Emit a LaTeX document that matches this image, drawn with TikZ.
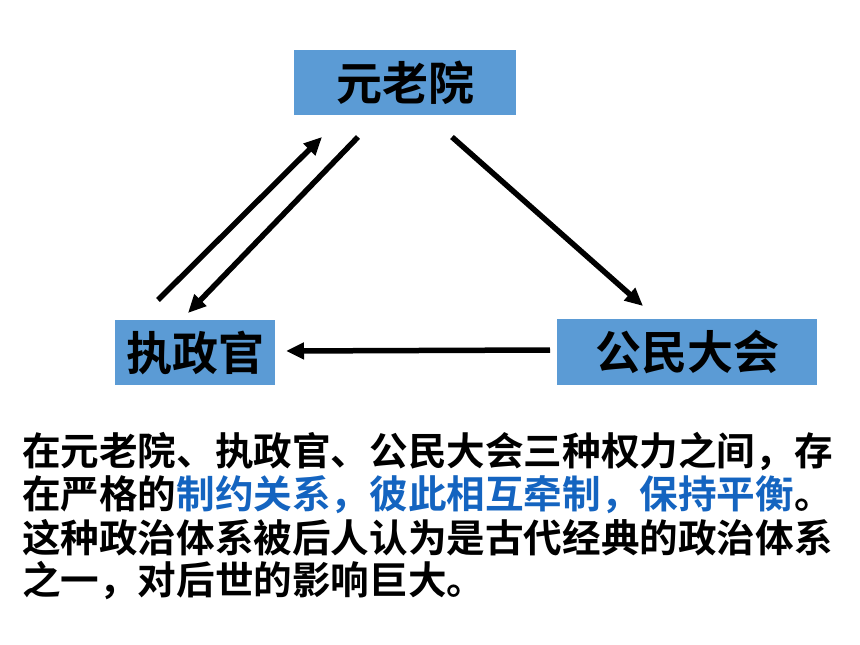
\documentclass[tikz,border=0pt]{standalone}
\usepackage{fontspec}
\setmainfont{Noto Sans CJK SC Bold}
\newfontfamily\cjkb{Noto Sans CJK SC Bold}
\usetikzlibrary{arrows.meta}
\definecolor{boxblue}{RGB}{91,155,213}
\definecolor{textblue}{RGB}{20,100,192}
\tikzset{
  pbox/.style={fill=boxblue, draw=none, inner sep=0pt, font=\cjkb\fontsize{46}{50}\selectfont, text=black},
  arr/.style={line width=5.5pt, -{Triangle[length=18pt,width=16pt]}},
  para/.style={anchor=west, inner sep=0pt, font=\cjkb\fontsize{38.6}{43}\selectfont, text=black}
}
\begin{document}
\begin{tikzpicture}[x=1pt,y=-1pt]
\useasboundingbox[fill=white] (0,0) rectangle (860,645);
\node[pbox, minimum width=222pt, minimum height=65pt] (senate) at (405,82.5) {元老院};
\node[pbox, minimum width=160pt, minimum height=65pt] (consul) at (195,352.5) {执政官};
\node[pbox, minimum width=260pt, minimum height=66pt] (assembly) at (687,352) {公民大会};
\coordinate (a1s) at (158,300);
\coordinate (a1e) at (322,137);
\coordinate (a2s) at (358,137);
\coordinate (a2e) at (188,313);
\coordinate (a3s) at (452,137);
\coordinate (a3e) at (643,306);
\coordinate (a4s) at (550,350);
\coordinate (a4e) at (286,351);
\draw[arr] (a1s) -- (a1e);
\draw[arr] (a2s) -- (a2e);
\draw[arr] (a3s) -- (a3e);
\draw[arr] (a4s) -- (a4e);
\node[para] (l1) at (22,452) {在元老院、执政官、公民大会三种权力之间，存};
\node[para] (l2) at (22,495) {在严格的\textcolor{textblue}{制约关系，彼此相互牵制，保持平衡}。};
\node[para] (l3) at (22,538) {这种政治体系被后人认为是古代经典的政治体系};
\node[para] (l4) at (22,581) {之一，对后世的影响巨大。};
\end{tikzpicture}
\end{document}
